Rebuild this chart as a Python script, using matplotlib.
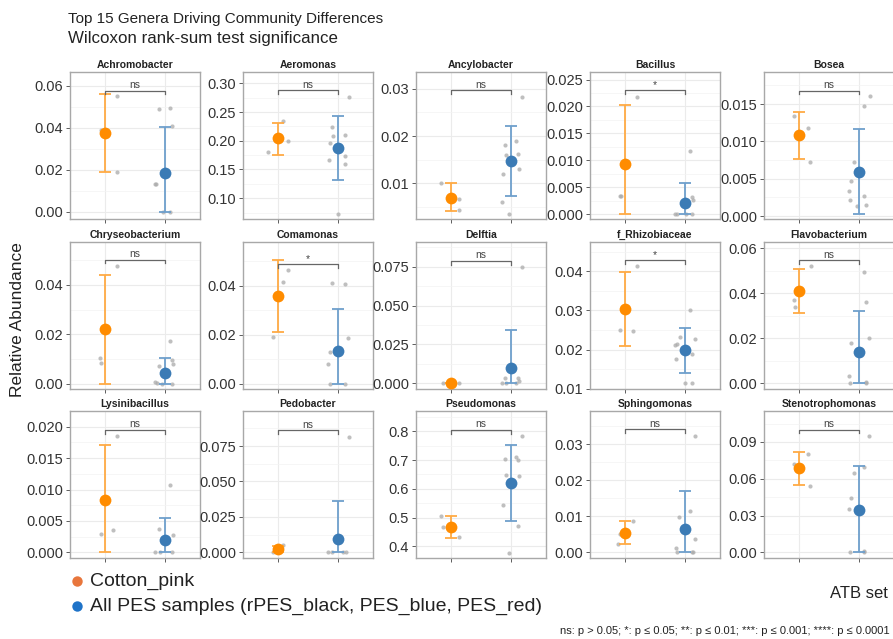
import matplotlib
matplotlib.use("Agg")
import matplotlib.pyplot as plt
from matplotlib.lines import Line2D
from matplotlib.ticker import MultipleLocator, FormatStrFormatter
import numpy as np

plt.rcParams['font.family'] = ['Liberation Sans', 'DejaVu Sans']

# ---- data ----
genera = ['Achromobacter', 'Aeromonas', 'Ancylobacter', 'Bacillus', 'Bosea',
          'Chryseobacterium', 'Comamonas', 'Delftia', 'f_Rhizobiaceae', 'Flavobacterium',
          'Lysinibacillus', 'Pedobacter', 'Pseudomonas', 'Sphingomonas', 'Stenotrophomonas']
sig_labels = ['ns', 'ns', 'ns', '*', 'ns',
              'ns', '*', 'ns', '*', 'ns',
              'ns', 'ns', 'ns', 'ns', 'ns']

orange_mean = [0.0374, 0.2046, 0.0070, 0.0094, 0.0108, 0.0220, 0.0356, 0.0002, 0.0303, 0.0408,
               0.0083, 0.0023, 0.4671, 0.0054, 0.0685]
orange_lo = [0.0191, 0.1760, 0.0042, 0.0, 0.0076, 0.0, 0.0211, 0.0, 0.0209, 0.0312,
             0.0, 0.0002, 0.4303, 0.0022, 0.0553]
orange_hi = [0.0558, 0.2316, 0.0100, 0.0202, 0.0140, 0.0441, 0.0503, 0.0005, 0.0398, 0.0506,
             0.0171, 0.0044, 0.5043, 0.0086, 0.0818]
blue_mean = [0.0184, 0.1877, 0.0147, 0.0020, 0.0059, 0.0043, 0.0134, 0.0096, 0.0198, 0.0141,
             0.0020, 0.0095, 0.6202, 0.0065, 0.0346]
blue_lo = [0.0, 0.1309, 0.0073, 0.0, 0.0003, 0.0, 0.0, 0.0, 0.0141, 0.0,
           0.0, 0.0, 0.4880, 0.0, 0.0]
blue_hi = [0.0402, 0.2432, 0.0221, 0.0058, 0.0116, 0.0102, 0.0304, 0.0340, 0.0256, 0.0323,
           0.0055, 0.0364, 0.7513, 0.0171, 0.0707]

# individual samples (value, horizontal jitter)
orange_pts = [[0.0388, 0.0552, 0.0189], [0.1800, 0.2351, 0.1988], [0.0101, 0.0068, 0.0043],
              [0.0034, 0.0033, 0.0218], [0.0134, 0.0118, 0.0073], [0.0102, 0.0083, 0.0476],
              [0.0191, 0.0415, 0.0465], [0.0, 0.0, 0.0004], [0.0249, 0.0247, 0.0413],
              [0.0370, 0.0340, 0.0519], [0.0029, 0.0035, 0.0185], [0.0004, 0.0049, 0.0008],
              [0.5054, 0.4661, 0.4313], [0.0050, 0.0022, 0.0086], [0.0720, 0.0799, 0.0541]]
orange_jit = [[-0.08, 0.19, 0.19], [-0.17, 0.085, 0.17], [-0.17, 0.12, 0.12],
              [-0.10, -0.07, 0.19], [-0.10, 0.14, 0.17], [-0.10, -0.07, 0.2],
              [-0.085, 0.085, 0.17], [-0.15, 0.12, -0.05], [-0.10, 0.12, 0.19],
              [-0.10, -0.07, 0.19], [-0.07, 0.12, 0.19], [-0.10, 0.085, -0.05],
              [-0.17, -0.14, 0.12], [-0.10, -0.12, 0.12], [-0.10, 0.14, 0.17]]
blue_pts = [[0.0489, 0.0495, 0.041, 0.0131, 0.0134, 0.0, 0.0],
            [0.2239, 0.2088, 0.1958, 0.2098, 0.1672, 0.1730, 0.1589, 0.2765, 0.0719],
            [0.0283, 0.0181, 0.0190, 0.0161, 0.0163, 0.0119, 0.0130, 0.0060, 0.0035],
            [0.0117, 0.0032, 0.0026, 0.0, 0.0, 0.0, 0.0],
            [0.0161, 0.0147, 0.0073, 0.0047, 0.0034, 0.0022, 0.0014, 0.0015, 0.0027],
            [0.0171, 0.0095, 0.0078, 0.0072, 0.0008, 0.0003, 0.0, 0.0],
            [0.0412, 0.0407, 0.0186, 0.0130, 0.0082, 0.0, 0.0],
            [0.0746, 0.0032, 0.0034, 0.0015, 0.0, 0.0003, 0.0],
            [0.0302, 0.0226, 0.0232, 0.0215, 0.0212, 0.0188, 0.0176, 0.0115, 0.0115],
            [0.0493, 0.0362, 0.0202, 0.0181, 0.0031, 0.0, 0.0004, 0.0],
            [0.0108, 0.0037, 0.0027, 0.0, 0.0, 0.0],
            [0.0817, 0.0, 0.0, 0.0, 0.0],
            [0.7837, 0.7050, 0.7096, 0.7016, 0.6494, 0.6435, 0.5426, 0.4696, 0.378],
            [0.0324, 0.0114, 0.0097, 0.0036, 0.0011, 0.0001, 0.0, 0.0],
            [0.0948, 0.0699, 0.0650, 0.0439, 0.0350, 0.0, 0.0008, 0.0]]
blue_jit = [[-0.10, 0.10, 0.12, -0.17, -0.14, -0.02, 0.10],
            [-0.10, -0.085, -0.12, 0.12, -0.14, 0.12, 0.12, 0.19, 0.0],
            [0.19, -0.10, 0.085, -0.085, 0.12, -0.12, 0.15, -0.14, -0.02],
            [0.10, 0.12, 0.15, -0.17, -0.12, 0.03, 0.12],
            [0.19, 0.085, -0.085, -0.12, -0.17, -0.14, -0.02, 0.12, 0.10],
            [0.10, 0.12, 0.15, -0.10, -0.17, -0.12, 0.12, -0.05],
            [-0.10, 0.12, 0.17, -0.12, -0.17, -0.12, 0.12],
            [0.19, -0.10, 0.12, 0.15, -0.15, -0.085, 0.085],
            [0.10, 0.17, -0.07, -0.12, -0.17, 0.12, -0.14, 0.0, 0.12],
            [0.10, 0.12, 0.17, -0.12, -0.17, -0.15, 0.12, 0.12],
            [0.10, -0.10, 0.15, -0.17, -0.07, 0.12],
            [0.19, -0.17, -0.10, 0.085, 0.14],
            [0.19, -0.10, 0.085, 0.12, -0.085, 0.15, -0.12, 0.12, -0.02],
            [0.17, 0.10, -0.10, 0.17, -0.15, -0.12, 0.12, 0.14],
            [0.17, 0.10, -0.085, -0.12, -0.17, -0.14, 0.10, 0.10]]

bracket_y = [0.0576, 0.2877, 0.0296, 0.0230, 0.0168, 0.0502, 0.0487, 0.0787, 0.0428, 0.0545,
             0.0195, 0.0862, 0.8045, 0.0342, 0.1001]

# axis settings per panel
ylims = [(-0.0035, 0.0665), (0.0637, 0.3198), (0.0025, 0.0335), (-0.0009, 0.0264),
         (-0.0004, 0.0193), (-0.0022, 0.0574), (-0.0022, 0.0578), (-0.0036, 0.0908),
         (0.0099, 0.0475), (-0.0025, 0.0627), (-0.0009, 0.0225), (-0.004, 0.0997),
         (0.3593, 0.8706), (-0.0016, 0.0393), (-0.0046, 0.1152)]
ysteps = [0.02, 0.05, 0.01, 0.005, 0.005, 0.02, 0.02, 0.025, 0.01, 0.02, 0.005, 0.025, 0.1, 0.01, 0.03]
ydecs = [2, 2, 2, 3, 3, 2, 2, 3, 2, 2, 3, 3, 1, 2, 2]

legend_labels = ['Cotton_pink', 'All PES samples (rPES_black, PES_blue, PES_red)']
legend_colors = ['#E8763C', '#1F73C8']

W, H = 893, 639
col_left = [70, 243, 416, 590, 764]
row_top = [72, 242, 411]
pw, ph = 130, 147

ORANGE, ORANGE_BAR = '#FF8C00', '#FFAA44'
BLUE, BLUE_BAR = '#3B7BB5', '#6E9FCC'

fig = plt.figure(figsize=(W / 100, H / 100), dpi=100)

for i, g in enumerate(genera):
    r, c = divmod(i, 5)
    ax = fig.add_axes([col_left[c] / W, 1 - (row_top[r] + ph) / H, pw / W, ph / H])
    lo, hi = ylims[i]
    ax.set_xlim(0.4, 2.6)
    ax.set_ylim(lo, hi)

    ax.yaxis.set_major_locator(MultipleLocator(ysteps[i]))
    ax.yaxis.set_minor_locator(MultipleLocator(ysteps[i] / 2))
    ax.yaxis.set_major_formatter(FormatStrFormatter('%.' + str(ydecs[i]) + 'f'))
    ax.set_xticks([1, 2])
    ax.set_xticklabels([])
    ax.grid(True, which='major', color='#EBEBEB', lw=0.8)
    ax.grid(True, which='minor', axis='y', color='#F3F3F3', lw=0.5)
    ax.set_axisbelow(True)
    ax.tick_params(axis='y', which='major', labelsize=10.5, length=3, width=0.6,
                   color='#444444', labelcolor='#333333', pad=2)
    ax.tick_params(axis='y', which='minor', length=0)
    ax.tick_params(axis='x', length=3, width=0.6, color='#444444')
    for s in ax.spines.values():
        s.set_color('#A8A8A8')
        s.set_linewidth(1.0)

    ax.scatter(1 + np.array(orange_jit[i]), orange_pts[i], s=9, color='#AAAAAA',
               alpha=0.75, lw=0, zorder=2)
    ax.scatter(2 + np.array(blue_jit[i]), blue_pts[i], s=9, color='#AAAAAA',
               alpha=0.75, lw=0, zorder=2)

    om, bm = orange_mean[i], blue_mean[i]
    ax.errorbar(1, om, yerr=[[om - orange_lo[i]], [orange_hi[i] - om]], fmt='none',
                ecolor=ORANGE_BAR, elinewidth=1.3, capsize=4.5, capthick=1.3, zorder=3)
    ax.errorbar(2, bm, yerr=[[bm - blue_lo[i]], [blue_hi[i] - bm]], fmt='none',
                ecolor=BLUE_BAR, elinewidth=1.3, capsize=4.5, capthick=1.3, zorder=3)
    ax.plot(1, om, 'o', color=ORANGE, ms=8.5, mec='none', zorder=4)
    ax.plot(2, bm, 'o', color=BLUE, ms=8.5, mec='none', zorder=4)

    # significance bracket
    by = bracket_y[i]
    d = 0.025 * (hi - lo)
    ax.plot([1, 1, 2, 2], [by - d, by, by, by - d], color='#666666', lw=0.9, zorder=3)
    ax.text(1.5, by + 0.004 * (hi - lo), sig_labels[i], ha='center', va='bottom',
            fontsize=7.5, color='#444444')

    ax.set_title(g, fontsize=7.5, fontweight='bold', color='#222222', pad=3)

fig.text(68 / W, 1 - 12 / H, 'Top 15 Genera Driving Community Differences',
         fontsize=11, color='#222222', va='top', ha='left')
fig.text(68 / W, 1 - 31 / H, 'Wilcoxon rank-sum test significance',
         fontsize=12.2, color='#222222', va='top', ha='left')
fig.text(18 / W, 1 - 320 / H, 'Relative Abundance', rotation=90, fontsize=12.5,
         color='#222222', ha='center', va='center')

# legend & notes
for k, (lab, col) in enumerate(zip(legend_labels, legend_colors)):
    yy = 1 - (581 + 25 * k) / H
    fig.add_artist(Line2D([77 / W], [yy], marker='o', ms=7.5, color=col, mec='none',
                          transform=fig.transFigure))
    fig.text(90 / W, yy, lab, fontsize=14, color='#222222', va='center')
fig.text(888 / W, 1 - 593 / H, 'ATB set', fontsize=12, color='#222222', ha='right', va='center')
fig.text(890 / W, 1 - 631 / H,
         'ns: p > 0.05; *: p \u2264 0.05; **: p \u2264 0.01; ***: p \u2264 0.001; ****: p \u2264 0.0001',
         fontsize=8, color='#222222', ha='right', va='center')

fig.savefig('out.png', dpi=100)
